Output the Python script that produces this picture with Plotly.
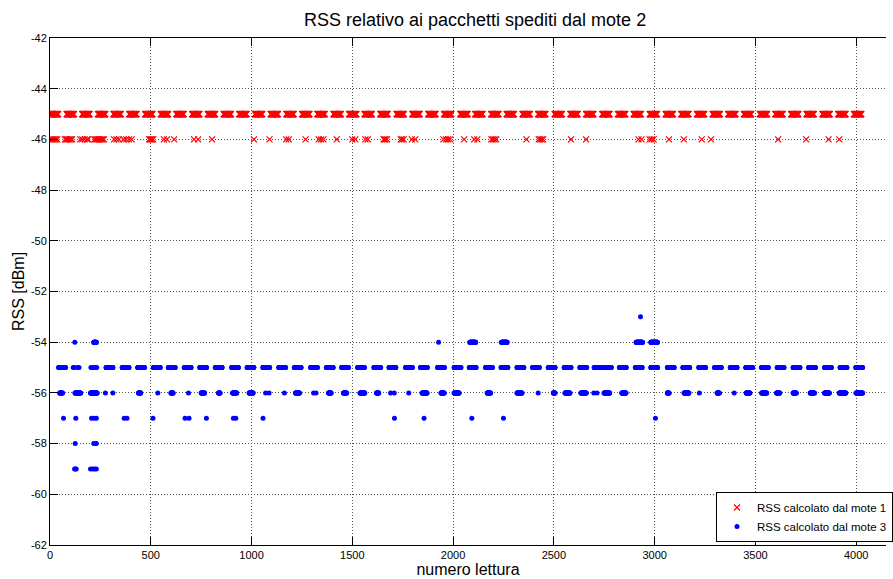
import plotly.graph_objects as go

# ---------------- data ----------------
# mote 1 (red x): dense runs of readings at -45 dBm (start, end reading index)
m1_45_start = [4, 83, 160, 238, 315, 393, 472, 550, 627, 705, 783, 862, 939, 1017, 1095, 1173,
               1251, 1327, 1407, 1484, 1561, 1639, 1720, 1798, 1877, 1955, 2036, 2110, 2189,
               2266, 2345, 2422, 2504, 2582, 2660, 2740, 2818, 2896, 2976, 3055, 3132, 3210,
               3288, 3365, 3443, 3522, 3599, 3677, 3754, 3833, 3911, 3989]
m1_45_end = [40, 119, 196, 274, 351, 429, 508, 586, 663, 741, 819, 898, 975, 1053, 1131, 1209,
             1287, 1363, 1443, 1520, 1597, 1675, 1756, 1834, 1913, 1991, 2072, 2146, 2225,
             2302, 2381, 2458, 2540, 2618, 2696, 2776, 2854, 2932, 3012, 3091, 3168, 3246,
             3324, 3401, 3479, 3558, 3635, 3713, 3790, 3869, 3947, 4025]
# mote 1: readings at -46 dBm
m1_46 = [6, 12, 18, 24, 30, 36, 74, 80, 86, 92, 98, 104, 110, 150, 160, 172, 184, 190,
         220, 226, 232, 238, 244, 250, 256, 262, 268, 318, 330, 342, 365, 378, 392, 405,
         492, 497, 502, 507, 512, 565, 580, 616, 715, 735, 804, 1012, 1089, 1172, 1185,
         1268, 1333, 1345, 1357, 1423, 1500, 1515, 1565, 1577, 1655, 1660, 1665, 1672,
         1740, 1747, 1755, 1795, 1812, 1952, 1965, 1975, 1985, 2055, 2105, 2120, 2190,
         2198, 2206, 2214, 2364, 2425, 2432, 2440, 2447, 2585, 2660, 2920, 2935, 2975,
         2985, 2995, 3071, 3145, 3234, 3280, 3613, 3752, 3863, 3916]

# mote 3 (blue dots): dense runs at -55 dBm
m3_55_start = [43, 278, 358, 435, 513, 587, 666, 743, 820, 901, 978, 1056, 1135, 1212, 1293,
               1371, 1447, 1526, 1607, 1682, 1764, 1838, 1923, 2005, 2080, 2161, 2238, 2317,
               2394, 2472, 2551, 2629, 2700, 2825, 2904, 2981, 3063, 3140, 3219, 3297, 3375,
               3452, 3530, 3608, 3687, 3764, 3843, 3920, 3998]
m3_55_end = [77, 312, 392, 469, 547, 621, 700, 777, 854, 935, 1012, 1090, 1169, 1246, 1327,
             1405, 1481, 1560, 1641, 1716, 1798, 1872, 1957, 2039, 2114, 2195, 2272, 2351,
             2428, 2506, 2585, 2663, 2785, 2859, 2938, 3015, 3097, 3174, 3253, 3331, 3409,
             3486, 3564, 3642, 3721, 3798, 3877, 3954, 4032]
m3_55_pts = [115, 122, 138, 144, 203, 210, 218, 226, 232]
# mote 3: -56 dBm (runs + single readings)
m3_56_start = [48, 124, 201, 439, 600, 750, 836, 906, 988, 1218, 1382, 1456, 1538, 1620,
               1846, 1940, 2005, 2169, 2317, 2497, 2555, 2634, 2749, 2837, 3063, 3146, 3310,
               3454, 3531, 3605, 3687, 3772, 3843, 3916, 3999]
m3_56_end = [62, 152, 234, 450, 611, 767, 844, 926, 1008, 1238, 1395, 1472, 1562, 1631,
             1871, 1956, 2030, 2186, 2342, 2506, 2580, 2661, 2777, 2858, 3072, 3170, 3321,
             3473, 3556, 3621, 3703, 3793, 3867, 3949, 4032]
m3_56_pts = [275, 312, 535, 687, 1070, 1087, 1163, 1308, 1320, 1690, 1708, 1780, 2422,
             2698, 2714, 3222, 3395]
# mote 3: -54 dBm
m3_54_start = [217, 2083, 2240, 2908, 2981]
m3_54_end = [230, 2112, 2268, 2940, 3014]
m3_54_pts = [123, 1928]
m3_53_pts = [2930]
m3_57_pts = [67, 128, 206, 218, 230, 368, 382, 511, 670, 690, 776, 910, 922, 1057, 1709,
             1856, 2093, 2250, 3004]
m3_58_pts = [125, 217, 224, 230]
m3_59_pts = [122, 126, 130, 201, 212, 222, 230]

x_ticks = [0, 500, 1000, 1500, 2000, 2500, 3000, 3500, 4000]
y_ticks = [-42, -44, -46, -48, -50, -52, -54, -56, -58, -60, -62]

# ---------------- build series ----------------
def runs(starts, ends):
    out = []
    for s, e in zip(starts, ends):
        out.extend(range(s, e + 1))
    return out

m1_x, m1_y = [], []
for v in runs(m1_45_start, m1_45_end):
    m1_x.append(v); m1_y.append(-45)
for v in m1_46:
    m1_x.append(v); m1_y.append(-46)

m3_x, m3_y = [], []
def add3(xs, level):
    for v in xs:
        m3_x.append(v); m3_y.append(level)
add3(runs(m3_55_start, m3_55_end) + m3_55_pts, -55)
add3(runs(m3_56_start, m3_56_end) + m3_56_pts, -56)
add3(runs(m3_54_start, m3_54_end) + m3_54_pts, -54)
add3(m3_53_pts, -53)
add3(m3_57_pts, -57)
add3(m3_58_pts, -58)
add3(m3_59_pts, -59)

FONT = "Liberation Sans, Arial, Helvetica, sans-serif"

fig = go.Figure()
fig.add_trace(go.Scatter(
    x=m1_x, y=m1_y, mode="markers", name="RSS calcolato dal mote 1",
    marker=dict(symbol="x-thin", size=6, color="#ff0000",
                line=dict(color="#ff0000", width=1.2)),
))
fig.add_trace(go.Scatter(
    x=m3_x, y=m3_y, mode="markers", name="RSS calcolato dal mote 3",
    marker=dict(symbol="circle", size=5, color="#0000ff", line=dict(width=0)),
))

axis_common = dict(
    showgrid=True, gridcolor="#555555", griddash="1px,2px", gridwidth=1,
    zeroline=False, showline=True, linecolor="#000000", linewidth=1,
    ticks="inside", ticklen=8, tickcolor="#000000", tickwidth=1,
    tickfont=dict(family=FONT, size=11, color="#000000"),
)

fig.update_xaxes(
    range=[0, 4148], tickvals=x_ticks, ticktext=[str(t) for t in x_ticks],
    mirror="ticks",
    title=dict(text="numero lettura", font=dict(family=FONT, size=16, color="#000000"),
               standoff=2),
    **axis_common,
)
fig.update_yaxes(
    range=[-62, -42], tickvals=y_ticks, ticktext=[str(t) for t in y_ticks],
    mirror=False,
    title=dict(text="RSS [dBm]", font=dict(family=FONT, size=16, color="#000000"),
               standoff=2),
    **axis_common,
)

fig.update_layout(
    width=893, height=579,
    margin=dict(l=50, r=0, t=38, b=34, pad=0),
    paper_bgcolor="#ffffff", plot_bgcolor="#ffffff",
    title=dict(text="RSS relativo ai pacchetti spediti dal mote 2",
               font=dict(family=FONT, size=18, color="#000000"),
               x=0.532, xref="container", xanchor="center",
               y=1 - 20 / 579, yref="container", yanchor="middle"),
    showlegend=True,
    legend=dict(x=0.797, xanchor="left", y=0.006, yanchor="bottom",
                bgcolor="#ffffff", bordercolor="#000000", borderwidth=1,
                font=dict(family=FONT, size=11.5, color="#000000"),
                itemwidth=30, tracegroupgap=0),
)

fig.write_html("out.html")
